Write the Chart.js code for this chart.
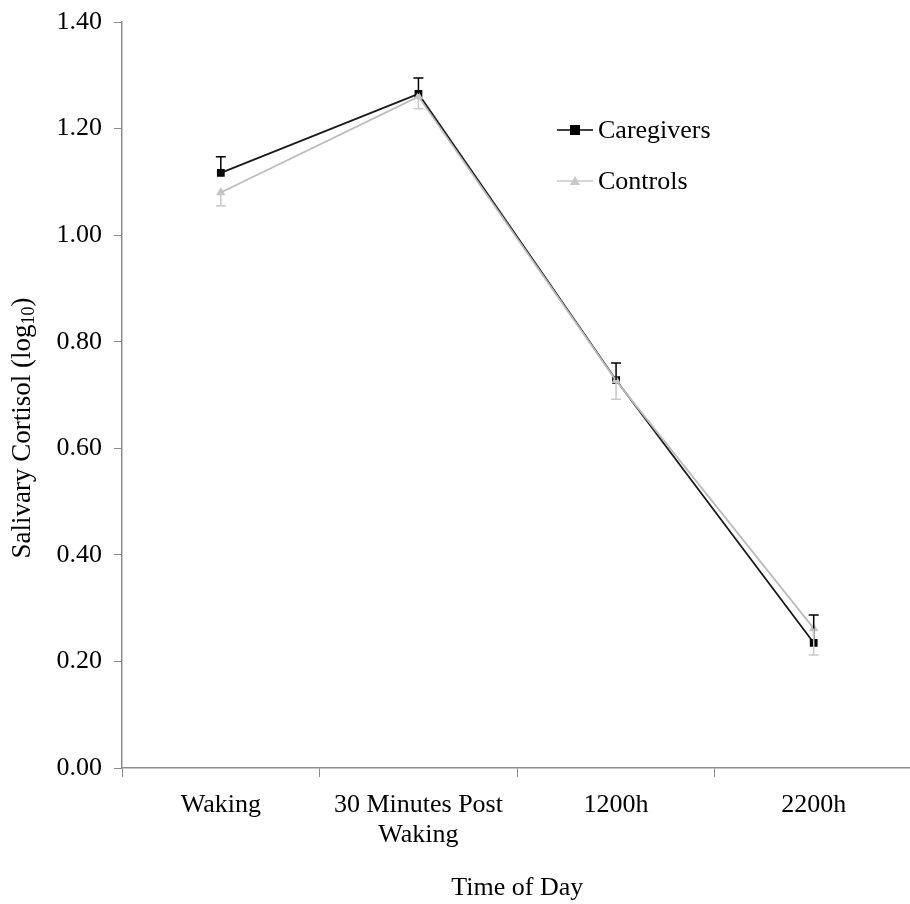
<!DOCTYPE html>
<html>
<head>
<meta charset="utf-8">
<script src="https://cdn.jsdelivr.net/npm/chart.js@4/dist/chart.umd.min.js"></script>
<style>
  html, body { margin: 0; padding: 0; background: #fff; overflow: hidden; }
  #wrap { width: 918px; height: 904px; }
</style>
</head>
<body>
<div id="wrap"><canvas id="chart" width="918" height="904"></canvas></div>
<script>
// Data
const labels = ["Waking", ["30 Minutes Post", "Waking"], "1200h", "2200h"];
const caregivers = [1.117, 1.265, 0.728, 0.235];
const controls = [1.080, 1.260, 0.727, 0.262];
// error bar sizes (caregivers drawn upward, controls downward)
const caregiversErr = [0.030, 0.030, 0.032, 0.052];
const controlsErr = [0.025, 0.023, 0.035, 0.050];
const yTicks = [0, 0.2, 0.4, 0.6, 0.8, 1.0, 1.2, 1.4];

const FONT = "'Liberation Serif', 'Times New Roman', serif";
const FS = 26;
const AXIS_GREY = "#8c8c8c";

// error bars drawn from the data through the scales
const errorBars = {
  id: "errorBars",
  afterDatasetsDraw(chart) {
    const { ctx, scales: { x, y } } = chart;
    const sets = [
      { vals: caregivers, err: caregiversErr, dir: 1, color: "#000" },
      { vals: controls, err: controlsErr, dir: -1, color: "#c8c8c8" }
    ];
    ctx.save();
    ctx.lineWidth = 1.5;
    sets.forEach(s => {
      ctx.strokeStyle = s.color;
      s.vals.forEach((v, i) => {
        const px = x.getPixelForValue(i);
        const p0 = y.getPixelForValue(v);
        const p1 = y.getPixelForValue(v + s.dir * s.err[i]);
        ctx.beginPath();
        ctx.moveTo(px, p0);
        ctx.lineTo(px, p1);
        ctx.moveTo(px - 5, p1);
        ctx.lineTo(px + 5, p1);
        ctx.stroke();
      });
    });
    ctx.restore();
  }
};

// y title with a real subscript, sitting a little below the axis middle
const yTitle = {
  id: "yTitle",
  afterDraw(chart) {
    const { ctx } = chart;
    const main = "Salivary Cortisol (log";
    const sub = "10";
    const tail = ")";
    const fs = 27;
    ctx.save();
    ctx.translate(21, 428);
    ctx.rotate(-Math.PI / 2);
    ctx.fillStyle = "#000";
    ctx.textBaseline = "alphabetic";
    ctx.font = fs + "px " + FONT;
    const wMain = ctx.measureText(main).width;
    const wTail = ctx.measureText(tail).width;
    ctx.font = Math.round(fs * 0.65) + "px " + FONT;
    const wSub = ctx.measureText(sub).width;
    let x0 = -(wMain + wSub + wTail) / 2;
    const base = 9;
    ctx.font = fs + "px " + FONT;
    ctx.fillText(main, x0, base);
    ctx.font = Math.round(fs * 0.65) + "px " + FONT;
    ctx.fillText(sub, x0 + wMain, base + 4);
    ctx.font = fs + "px " + FONT;
    ctx.fillText(tail, x0 + wMain + wSub, base);
    ctx.restore();
  }
};

// legend placed inside the plot like the original
const insideLegend = {
  id: "insideLegend",
  afterDraw(chart) {
    const { ctx } = chart;
    const items = [
      { text: "Caregivers", line: "#000", fill: "#000", style: "rect", y: 130 },
      { text: "Controls", line: "#c8c8c8", fill: "#c8c8c8", style: "triangle", y: 181 }
    ];
    ctx.save();
    items.forEach(it => {
      ctx.strokeStyle = it.line;
      ctx.lineWidth = 1.5;
      ctx.beginPath();
      ctx.moveTo(557, it.y);
      ctx.lineTo(593, it.y);
      ctx.stroke();
      ctx.fillStyle = it.fill;
      if (it.style === "rect") {
        ctx.fillRect(570, it.y - 5, 10, 10);
      } else {
        ctx.beginPath();
        ctx.moveTo(575, it.y - 5);
        ctx.lineTo(580, it.y + 4);
        ctx.lineTo(570, it.y + 4);
        ctx.closePath();
        ctx.fill();
      }
      ctx.fillStyle = "#000";
      ctx.font = FS + "px " + FONT;
      ctx.textBaseline = "middle";
      ctx.fillText(it.text, 598, it.y + 1);
    });
    ctx.restore();
  }
};

new Chart(document.getElementById("chart"), {
  type: "line",
  data: {
    labels: labels,
    datasets: [
      {
        label: "Caregivers",
        data: caregivers,
        order: 1,
        borderColor: "#1a1a1a",
        backgroundColor: "#000",
        borderWidth: 1.8,
        pointStyle: "rect",
        pointRadius: 5.5,
        pointBorderWidth: 0,
        tension: 0
      },
      {
        label: "Controls",
        data: controls,
        order: 0,
        borderColor: "#bcbcbc",
        backgroundColor: "#c4c4c4",
        borderWidth: 1.8,
        pointStyle: "triangle",
        pointRadius: 5.5,
        pointBorderWidth: 0,
        tension: 0
      }
    ]
  },
  options: {
    responsive: false,
    animation: false,
    layout: { padding: { top: 22, right: 0, left: 0, bottom: 0 } },
    plugins: {
      legend: { display: false },
      tooltip: { enabled: false }
    },
    scales: {
      x: {
        offset: true,
        grid: {
          offset: true,
          drawOnChartArea: false,
          color: AXIS_GREY,
          tickLength: 9
        },
        border: { color: AXIS_GREY, width: 1.5 },
        ticks: {
          color: "#000",
          font: { family: FONT, size: FS, lineHeight: 1.15 },
          padding: 13,
          maxRotation: 0,
          autoSkip: false
        },
        title: {
          display: true,
          text: "Time of Day",
          color: "#000",
          font: { family: FONT, size: FS },
          padding: { top: 22, bottom: 0 }
        },
        afterFit(scale) { scale.height = 136; }
      },
      y: {
        min: 0,
        max: 1.4,
        afterBuildTicks(scale) { scale.ticks = yTicks.map(v => ({ value: v })); },
        grid: {
          drawOnChartArea: false,
          color: AXIS_GREY,
          tickLength: 8
        },
        border: { color: AXIS_GREY, width: 1.5 },
        ticks: {
          color: "#000",
          font: { family: FONT, size: FS },
          padding: 12,
          callback: v => v.toFixed(2)
        },
        title: { display: false },
        afterFit(scale) {
          scale.width = 122;
          scale.paddingTop = 0;
          scale.paddingBottom = 0;
        }
      }
    }
  },
  plugins: [errorBars, insideLegend, yTitle]
});
</script>
</body>
</html>
